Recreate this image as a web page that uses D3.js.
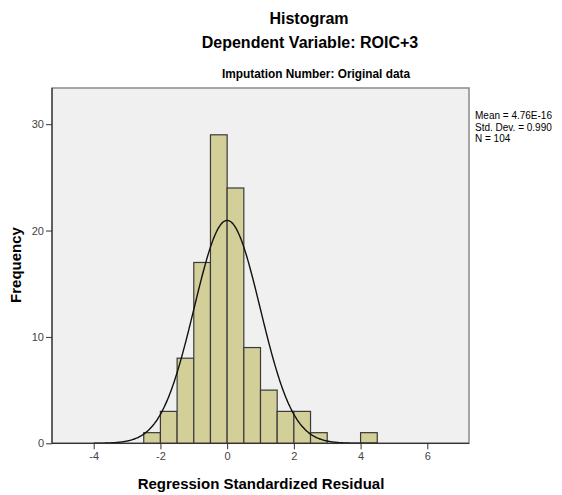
<!DOCTYPE html>
<html><head><meta charset="utf-8">
<script src="https://cdn.jsdelivr.net/npm/d3@7"></script>
<style>body{margin:0;background:#fff}svg{display:block}text{font-family:"Liberation Sans",Arial,sans-serif}</style>
</head><body>
<svg id="c" width="562" height="495"></svg>
<script>
// Histogram bins (left edge, width 0.5) and counts
const binStarts = [-2.5, -2.0, -1.5, -1.0, -0.5, 0.0, 0.5, 1.0, 1.5, 2.0, 2.5, 4.0];
const binCounts = [1, 3, 8, 17, 29, 24, 9, 5, 3, 3, 1, 1];
const binWidth = 0.5;
const xTicks = [-4, -2, 0, 2, 4, 6];
const yTicks = [0, 10, 20, 30];
const statLabels = ["Mean = 4.76E-16", "Std. Dev. = 0.990", "N = 104"];
const statMean = 4.76e-16, statSD = 0.990, statN = 104;
const curveRange = [-4.0, 4.5];

const svg = d3.select("#c");
const L = 52, R = 469, T = 88, B = 443.3;
const x = d3.scaleLinear().domain([-5.25, 7.25]).range([L, R]);
const y = d3.scaleLinear().domain([0, 33.4]).range([B, T]);

svg.append("rect").attr("x", L).attr("y", T).attr("width", R - L).attr("height", B - T)
  .attr("fill", "#f0f0f0").attr("stroke", "#8a8a8a").attr("stroke-width", 1.5);

const bars = binStarts.map((s, i) => ({s, c: binCounts[i]}));
svg.append("g").selectAll("rect").data(bars).join("rect")
  .attr("x", d => x(d.s)).attr("y", d => y(d.c))
  .attr("width", d => x(d.s + binWidth) - x(d.s)).attr("height", d => y(0) - y(d.c))
  .attr("fill", "#d3cf99").attr("stroke", "#3a3a3a").attr("stroke-width", 1.2);

// normal curve from reported stats
const pdf = v => statN * binWidth * Math.exp(-0.5 * ((v - statMean) / statSD) ** 2) / (statSD * Math.sqrt(2 * Math.PI));
const pts = d3.range(curveRange[0], curveRange[1] + 0.001, 0.02).map(v => [v, pdf(v)]);
svg.append("path").attr("d", d3.line().x(d => x(d[0])).y(d => y(d[1])).curve(d3.curveBasis)(pts))
  .attr("fill", "none").attr("stroke", "#111").attr("stroke-width", 1.4);

// axes lines
svg.append("line").attr("x1", L).attr("x2", L).attr("y1", T).attr("y2", B).attr("stroke", "#333").attr("stroke-width", 1.2);
svg.append("line").attr("x1", L).attr("x2", R).attr("y1", B).attr("y2", B).attr("stroke", "#333").attr("stroke-width", 1.2);

const xAxis = d3.axisBottom(x).tickValues(xTicks).tickSize(6).tickPadding(3).tickFormat(d => String(d));
const gx = svg.append("g").attr("transform", `translate(0,${B})`).call(xAxis);
gx.select(".domain").remove();
gx.selectAll("line").attr("stroke", "#333");
gx.selectAll("text").attr("fill", "#444").style("font-size", "11px").style("font-family", "Liberation Sans, Arial, sans-serif");

const yAxis = d3.axisLeft(y).tickValues(yTicks).tickSize(6).tickPadding(2).tickFormat(d => String(d));
const gy = svg.append("g").attr("transform", `translate(${L},0)`).call(yAxis);
gy.select(".domain").remove();
gy.selectAll("line").attr("stroke", "#333");
gy.selectAll("text").attr("fill", "#444").style("font-size", "11px").style("font-family", "Liberation Sans, Arial, sans-serif");

// titles
svg.append("text").attr("x", 309).attr("y", 24).attr("text-anchor", "middle")
  .style("font-size", "16px").style("font-weight", "bold").attr("fill", "#000").text("Histogram");
svg.append("text").attr("x", 310).attr("y", 48).attr("text-anchor", "middle")
  .style("font-size", "16px").style("font-weight", "bold").attr("fill", "#000").text("Dependent Variable: ROIC+3");
svg.append("text").attr("x", 316).attr("y", 78).attr("text-anchor", "middle")
  .style("font-size", "13px").style("font-weight", "bold").attr("fill", "#000")
  .attr("textLength", 188).attr("lengthAdjust", "spacingAndGlyphs").text("Imputation Number: Original data");

svg.append("text").attr("x", 261).attr("y", 489).attr("text-anchor", "middle")
  .style("font-size", "15px").style("font-weight", "bold").text("Regression Standardized Residual");
svg.append("text").attr("transform", "translate(21,265) rotate(-90)").attr("text-anchor", "middle")
  .style("font-size", "15px").style("font-weight", "bold").text("Frequency");

svg.append("g").selectAll("text").data(statLabels).join("text")
  .attr("x", 475).attr("y", (d, i) => 119 + i * 11.5)
  .style("font-size", "10px").attr("fill", "#000").text(d => d);
</script>
</body></html>
